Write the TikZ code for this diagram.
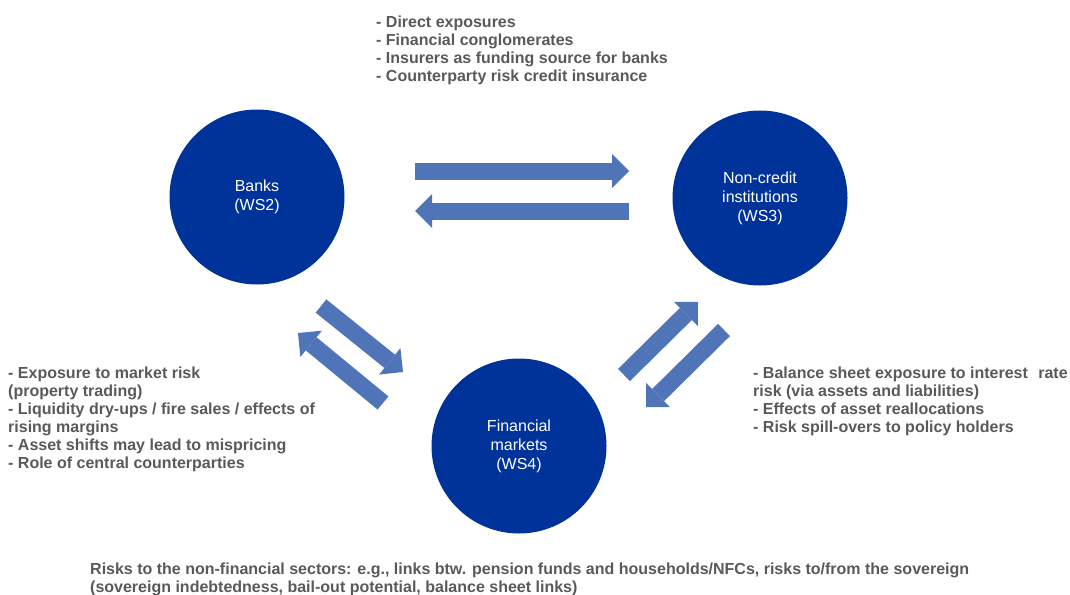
\documentclass[tikz,border=0pt]{standalone}
\usepackage{fontspec}
\setmainfont{Liberation Sans}
\usetikzlibrary{arrows.meta}

\definecolor{wsblue}{RGB}{0,51,153}
\definecolor{flowblue}{RGB}{79,117,184}
\definecolor{notegray}{RGB}{89,89,89}

\begin{document}
\begin{tikzpicture}[x=1pt, y=-1pt,
    sector/.style={circle, fill=wsblue, minimum size=175pt, inner sep=0pt, text=white,
      align=center, font=\fontsize{16}{19}\selectfont},
    note/.style={anchor=north west, inner sep=0pt, text=notegray, align=left,
      font=\fontsize{16}{18}\selectfont\bfseries},
    flow/.style={draw=flowblue, line width=17pt,
      -{Triangle[length=17pt, width=34pt, line width=0pt]}}]
  \useasboundingbox (0,0) rectangle (1070,594);

  % sectors
  \node[sector] (banks) at (257,197) {Banks\\(WS2)};
  \node[sector] (noncredit) at (760,198) {Non-credit\\institutions\\(WS3)};
  \node[sector] (markets) at (519,446) {Financial\\markets\\(WS4)};

  % ends of the flow arrows
  \coordinate (bn-a) at (415,171);  \coordinate (bn-b) at (629,171);
  \coordinate (nb-a) at (629,211);  \coordinate (nb-b) at (415,211);
  \coordinate (bm-a) at (321,306);  \coordinate (bm-b) at (403,372);
  \coordinate (mb-a) at (383,403);  \coordinate (mb-b) at (298,333);
  \coordinate (mn-a) at (624,375);  \coordinate (mn-b) at (698,302);
  \coordinate (nm-a) at (724,330);  \coordinate (nm-b) at (646,407);

  \draw[flow] (bn-a) -- (bn-b);
  \draw[flow] (nb-a) -- (nb-b);
  \draw[flow] (bm-a) -- (bm-b);
  \draw[flow] (mb-a) -- (mb-b);
  \draw[flow] (mn-a) -- (mn-b);
  \draw[flow] (nm-a) -- (nm-b);

  % channels
  \node[note] (bn-note) at (376,16) {- Direct exposures\\- Financial conglomerates\\
    - Insurers as funding source for banks\\- Counterparty risk credit insurance};
  \node[note] (bm-note) at (8,367) {- Exposure to market risk\\(property trading)\\
    - Liquidity dry-ups / fire sales / effects of\\rising margins\\
    - Asset shifts may lead to mispricing\\- Role of central counterparties};
  \node[note] (nm-note) at (753,367) {- Balance sheet exposure to interest\hspace{6pt} rate\\
    risk (via assets and liabilities)\\- Effects of asset reallocations\\
    - Risk spill-overs to policy holders};
  \node[note] (sector-note) at (90,563)
    {Risks to the non-financial sectors: e.g., links btw. pension funds and households/NFCs, risks to/from the sovereign\\
    (sovereign indebtedness, bail-out potential, balance sheet links)};
\end{tikzpicture}
\end{document}
